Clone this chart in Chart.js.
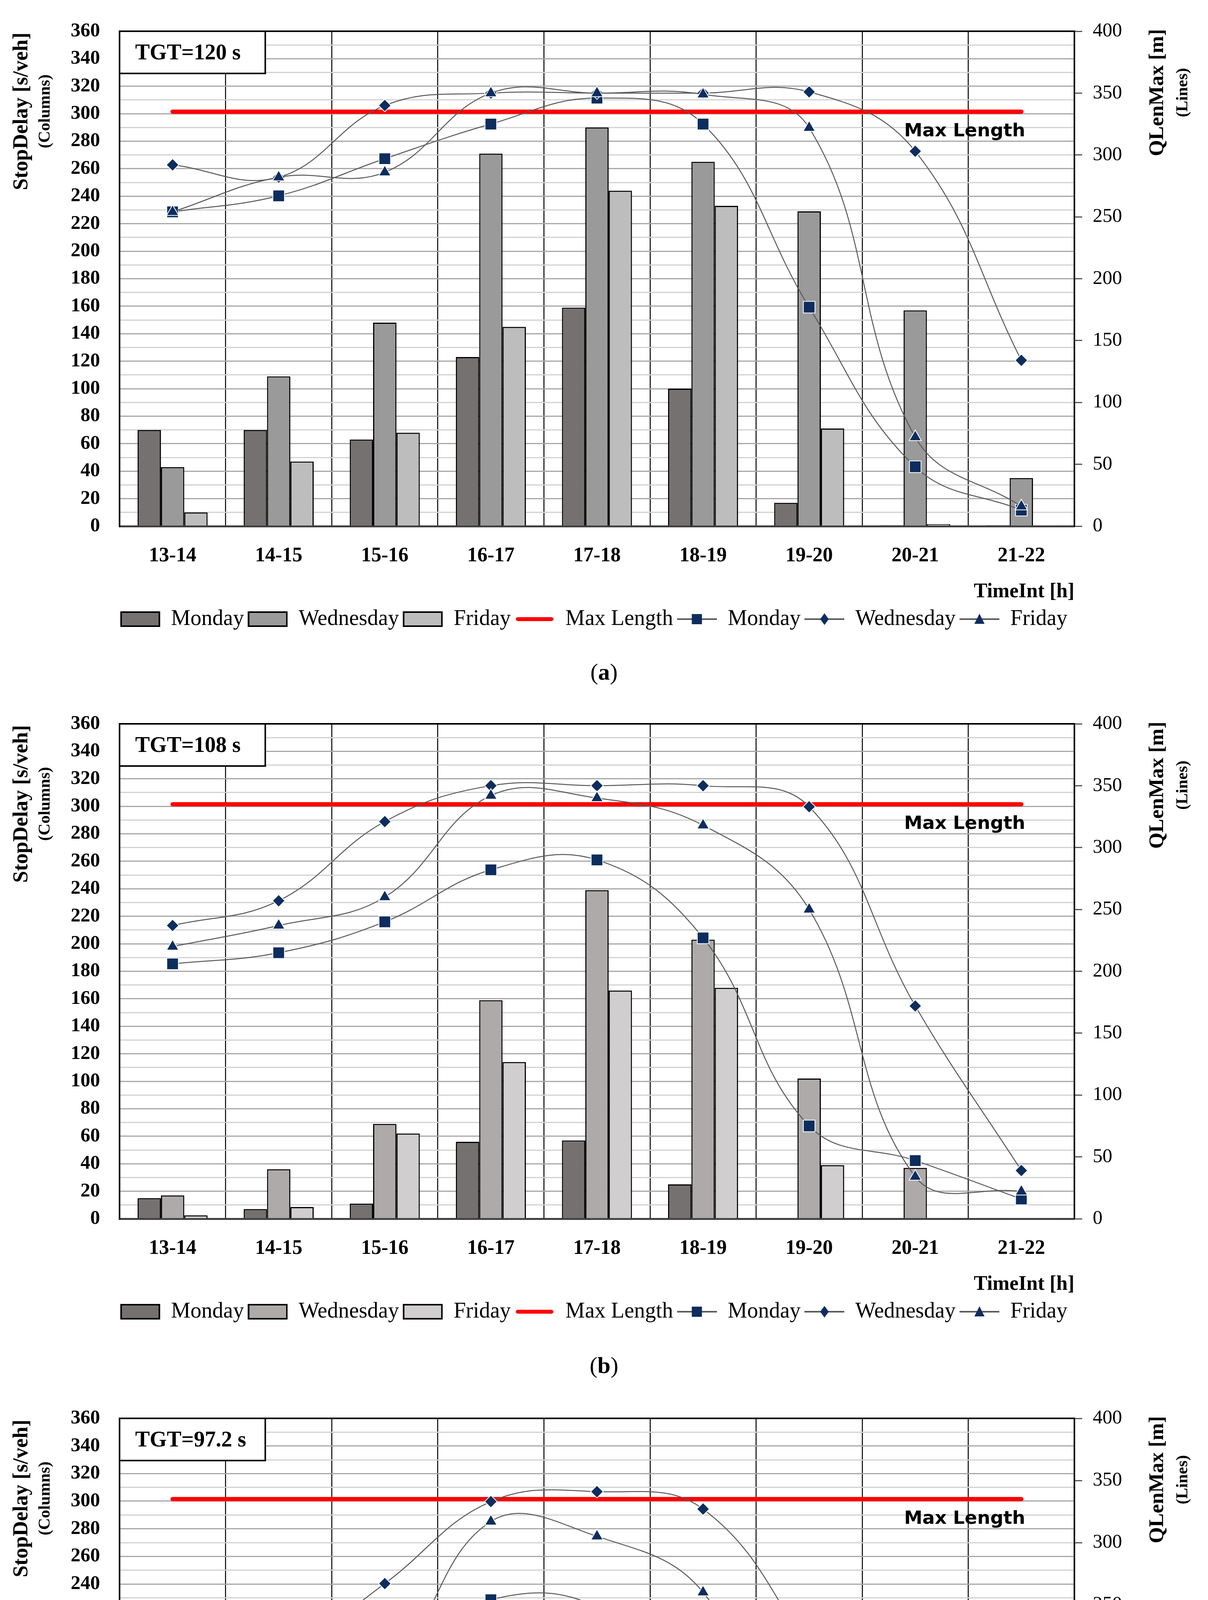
<!DOCTYPE html>
<html>
<head>
<meta charset="utf-8">
<script src="https://cdn.jsdelivr.net/npm/chart.js@4.4.1/dist/chart.umd.min.js"></script>
<style>
  html, body { margin: 0; padding: 0; background: #fff; }
  body { width: 3092px; height: 5341px; position: relative; overflow: hidden; font-family: "Liberation Serif", serif; }
  canvas { position: absolute; left: 0; }
  .cap { position: absolute; left: 0; width: 3092px; text-align: center; font-size: 60px; line-height: 70px; color: #000; }
</style>
</head>
<body>
<canvas id="chartA" width="3092" height="1623" style="top:0px"></canvas>
<div class="cap" style="top:1685px">(<b>a</b>)</div>
<canvas id="chartB" width="3092" height="1623" style="top:1773px"></canvas>
<div class="cap" style="top:3460px">(<b>b</b>)</div>
<canvas id="chartC" width="3092" height="1628" style="top:3551px"></canvas>
<div class="cap" style="top:5242px">(<b>c</b>)</div>

<script>
// time intervals on the x axis
const categories = ['13-14', '14-15', '15-16', '16-17', '17-18', '18-19', '19-20', '20-21', '21-22'];

// (a) TGT = 120 s
const delayMonA = [70, 70, 63, 123, 159, 100, 17, 0.7, 0.7];
const delayWedA = [43, 109, 148, 271, 290, 265, 229, 157, 35];
const delayFriA = [10, 47, 68, 145, 244, 233, 71, 1.5, 0.5];
const qlenMonA = [254, 267, 297, 325, 346, 325, 177, 48, 13];
const qlenWedA = [292, 282, 340, 350, 350, 350, 351, 303, 134];
const qlenFriA = [254, 282, 286, 350, 350, 349, 322, 72, 16];

// (b) TGT = 108 s
const delayMonB = [15, 7, 11, 56, 57, 25, 0.5, 0.5, 0.5];
const delayWedB = [17, 36, 69, 159, 239, 203, 102, 37, 0.5];
const delayFriB = [2.5, 8.5, 62, 114, 166, 168, 39, 0.5, 0.5];
const qlenMonB = [206, 215, 240, 282, 290, 227, 75, 47, 16];
const qlenWedB = [237, 257, 321, 350, 350, 350, 333, 172, 39];
const qlenFriB = [220, 237, 260, 342, 340, 318, 250, 34, 22];

// (c) TGT = 97.2 s
const delayMonC = [3.7, 2, 0.5, 16, 15, 1, 0.5, 0.5, 0.5];
const delayWedC = [2, 12, 45, 107, 144, 89, 32, 1, 0.5];
const delayFriC = [0.5, 0.5, 7, 37, 72, 38, 6, 0.5, 0.5];
const qlenMonC = [176, 172, 205, 254, 248, 169, 47, 48, 14.5];
const qlenWedC = [186, 208, 267, 333, 341, 327, 214, 73, 28];
const qlenFriC = [172, 172, 196, 317, 305, 260, 94, 38, 16];

// max queue length reference line (right axis)
const maxLength = [335, 335, 335, 335, 335, 335, 335, 335, 335];

const NAVY = '#0d2d5e';
const LINE_GREY = '#595959';

Chart.defaults.font.family = '"Liberation Serif", serif';
Chart.defaults.color = '#000';

function makeIcon(draw) {
  const c = document.createElement('canvas');
  c.width = 102; c.height = 40;
  draw(c.getContext('2d'));
  return c;
}
function barIcon(color) {
  return makeIcon(g => {
    g.fillStyle = color; g.fillRect(2, 2, 98, 36);
    g.strokeStyle = '#000'; g.lineWidth = 4; g.strokeRect(2, 2, 98, 36);
  });
}
function markerIcon(shape) {
  return makeIcon(g => {
    g.strokeStyle = LINE_GREY; g.lineWidth = 4;
    g.beginPath(); g.moveTo(0, 20); g.lineTo(102, 20); g.stroke();
    g.fillStyle = NAVY;
    g.beginPath();
    if (shape === 'square') { g.rect(38, 7, 26, 26); }
    else if (shape === 'diamond') { g.moveTo(51, 5); g.lineTo(62, 20); g.lineTo(51, 35); g.lineTo(40, 20); g.closePath(); }
    else { g.moveTo(51, 6); g.lineTo(64, 32); g.lineTo(38, 32); g.closePath(); }
    g.fill();
  });
}
const redIcon = makeIcon(g => {
  g.strokeStyle = '#ff0000'; g.lineWidth = 10; g.lineCap = 'round';
  g.beginPath(); g.moveTo(8, 20); g.lineTo(94, 20); g.stroke();
});

function vText(ctx, text, x, y, font) {
  ctx.save();
  ctx.translate(x, y);
  ctx.rotate(-Math.PI / 2);
  ctx.font = font;
  ctx.textAlign = 'center';
  ctx.textBaseline = 'middle';
  ctx.fillStyle = '#000';
  ctx.fillText(text, 0, 0);
  ctx.restore();
}

// frame, TGT box, Max Length label and axis titles
const decor = {
  id: 'decor',
  beforeDatasetsDraw(chart, args, opts) {
    const { ctx, chartArea: a } = chart;
    ctx.save();
    ctx.strokeStyle = '#000';
    ctx.lineWidth = 4;
    ctx.beginPath();
    ctx.moveTo(a.left, a.bottom); ctx.lineTo(a.left, a.top);
    ctx.lineTo(a.right, a.top); ctx.lineTo(a.right, a.bottom);
    ctx.stroke();
    ctx.fillStyle = '#fff';
    ctx.fillRect(a.left, a.top, 373, 108);
    ctx.strokeRect(a.left, a.top, 373, 108);
    ctx.fillStyle = '#000';
    ctx.font = 'bold 56px "Liberation Serif"';
    ctx.textBaseline = 'middle';
    ctx.fillText(opts.tgt, a.left + 40, a.top + 58);
    ctx.restore();
  },
  afterDatasetsDraw(chart) {
    const { ctx, scales } = chart;
    ctx.save();
    ctx.font = 'bold 47px "DejaVu Sans"';
    ctx.fillStyle = '#000';
    ctx.textAlign = 'right';
    ctx.textBaseline = 'middle';
    ctx.fillText('Max Length', scales.x.getPixelForValue(8) + 10, scales.y1.getPixelForValue(319));
    ctx.restore();
  },
  afterDraw(chart) {
    const { ctx, chartArea: a } = chart;
    vText(ctx, 'StopDelay [s/veh]', 56, a.top + 205, 'bold 54px "Liberation Serif"');
    vText(ctx, '(Columns)', 116, a.top + 205, 'bold 42px "Liberation Serif"');
    vText(ctx, 'QLenMax [m]', 2963, a.top + 157, 'bold 53px "Liberation Serif"');
    vText(ctx, '(Lines)', 3028, a.top + 157, 'bold 42px "Liberation Serif"');
  }
};

function makeChart(id, tgt, bars, lines, barColors) {
  const icons = [barIcon(barColors[0]), barIcon(barColors[1]), barIcon(barColors[2]), redIcon,
                 markerIcon('square'), markerIcon('diamond'), markerIcon('triangle')];
  const barDs = (label, data, color) => ({
    type: 'bar', label, data, yAxisID: 'y', order: 10,
    backgroundColor: color, borderColor: '#000', borderWidth: 3,
    barPercentage: 1, categoryPercentage: 0.66
  });
  const lineDs = (label, data, style, radius, order) => ({
    type: 'line', label, data, yAxisID: 'y1', order,
    borderColor: LINE_GREY, borderWidth: 2.5, tension: 0.4, fill: false,
    pointStyle: style, pointRadius: radius, pointBackgroundColor: NAVY,
    pointBorderColor: '#ffffff', pointBorderWidth: 2
  });

  return new Chart(document.getElementById(id), {
    type: 'bar',
    data: {
      labels: categories,
      datasets: [
        barDs('Monday', bars[0], barColors[0]),
        barDs('Wednesday', bars[1], barColors[1]),
        barDs('Friday', bars[2], barColors[2]),
        { type: 'line', label: 'Max Length', data: maxLength, yAxisID: 'y1', order: 5,
          borderColor: '#ff0000', borderWidth: 11, borderCapStyle: 'round', pointRadius: 0, tension: 0 },
        lineDs('Monday', lines[0], 'rect', 21, 3),
        lineDs('Wednesday', lines[1], 'rectRot', 16, 2),
        lineDs('Friday', lines[2], 'triangle', 18, 1)
      ]
    },
    options: {
      responsive: false,
      animation: false,
      devicePixelRatio: 1,
      layout: { padding: { top: 49, left: 0, right: 52, bottom: 0 } },
      plugins: {
        tooltip: { enabled: false },
        decor: { tgt },
        legend: {
          position: 'bottom',
          labels: {
            usePointStyle: true,
            pointStyleWidth: 102,
            padding: 10,
            color: '#000',
            font: { size: 56 },
            generateLabels: ch => ch.data.datasets.map((ds, i) => ({
              text: ds.label, pointStyle: icons[i], datasetIndex: i,
              hidden: false, lineWidth: 0, fillStyle: '#000', strokeStyle: '#000'
            }))
          }
        }
      },
      scales: {
        x: {
          offset: true,
          grid: { offset: true, color: '#000', lineWidth: 2.5, drawTicks: false },
          border: { color: '#404040', width: 5 },
          ticks: { font: { size: 52, weight: 'bold' }, padding: 45, maxRotation: 0, color: '#000' },
          title: { display: true, text: 'TimeInt [h]', align: 'end', color: '#000',
                   font: { size: 52, weight: 'bold' }, padding: { top: 0, bottom: 0 } },
          afterFit: s => { s.height = 200; }
        },
        y: {
          position: 'left',
          min: 0, max: 360,
          grid: {
            color: c => (c.tick && c.tick.value % 20 === 0) ? '#a8a8a8' : '#d2d2d2',
            lineWidth: 3, drawTicks: false
          },
          border: { color: '#000', width: 4 },
          ticks: {
            stepSize: 10, autoSkip: false, padding: 50, color: '#000',
            font: { size: 50, weight: 'bold' },
            callback: v => (v % 20 === 0 ? v : '')
          },
          afterFit: s => { s.width = 306; }
        },
        y1: {
          position: 'right',
          min: 0, max: 400,
          grid: { drawOnChartArea: false, drawTicks: true, tickLength: 20, tickWidth: 3, tickColor: '#555' },
          border: { color: '#000', width: 4 },
          ticks: { stepSize: 50, autoSkip: false, padding: 27, color: '#000', font: { size: 50 } },
          afterFit: s => { s.width = 290; }
        }
      }
    },
    plugins: [decor]
  });
}

makeChart('chartA', 'TGT=120 s',
  [delayMonA, delayWedA, delayFriA], [qlenMonA, qlenWedA, qlenFriA],
  ['#767171', '#9a9a9a', '#bdbdbd']);
makeChart('chartB', 'TGT=108 s',
  [delayMonB, delayWedB, delayFriB], [qlenMonB, qlenWedB, qlenFriB],
  ['#767171', '#aeaaaa', '#d0cece']);
makeChart('chartC', 'TGT=97.2 s',
  [delayMonC, delayWedC, delayFriC], [qlenMonC, qlenWedC, qlenFriC],
  ['#737373', '#999999', '#bfbfbf']);
</script>
</body>
</html>
